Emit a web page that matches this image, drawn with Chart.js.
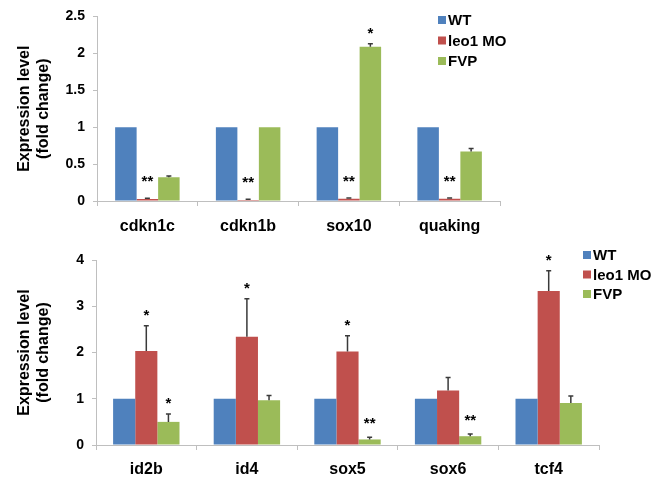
<!DOCTYPE html>
<html>
<head>
<meta charset="utf-8">
<script src="https://cdn.jsdelivr.net/npm/chart.js@4/dist/chart.umd.min.js"></script>
<style>
  html, body { margin: 0; padding: 0; background: #fff; }
  #wrap { position: relative; width: 660px; height: 479px; }
  #c1 { position: absolute; left: 0; top: 0; }
  #c2 { position: absolute; left: 0; top: 240px; }
</style>
</head>
<body>
<div id="wrap">
  <canvas id="c1" width="660" height="240"></canvas>
  <canvas id="c2" width="660" height="239"></canvas>
</div>
<script>
// ---------- data ----------
const seriesNames = ['WT', 'leo1 MO', 'FVP'];
const seriesColors = ['#4F81BD', '#C0504D', '#9BBB59'];

const topCategories = ['cdkn1c', 'cdkn1b', 'sox10', 'quaking'];
const topWT = [1, 1, 1, 1];
const topLeo1 = [0.027, 0.015, 0.03, 0.03];
const topFVP = [0.32, 1.0, 2.09, 0.67];
const topErrWT = [0, 0, 0, 0];
const topErrLeo1 = [0.01, 0.01, 0.01, 0.01];
const topErrFVP = [0.02, 0, 0.04, 0.04];
const topStarsWT = ['', '', '', ''];
const topStarsLeo1 = ['**', '**', '**', '**'];
const topStarsFVP = ['', '', '*', ''];
const topTicks = [0, 0.5, 1, 1.5, 2, 2.5];

const botCategories = ['id2b', 'id4', 'sox5', 'sox6', 'tcf4'];
const botWT = [1, 1, 1, 1, 1];
const botLeo1 = [2.03, 2.34, 2.02, 1.18, 3.33];
const botFVP = [0.50, 0.97, 0.12, 0.19, 0.91];
const botErrWT = [0, 0, 0, 0, 0];
const botErrLeo1 = [0.55, 0.82, 0.34, 0.28, 0.44];
const botErrFVP = [0.17, 0.10, 0.05, 0.05, 0.15];
const botStarsWT = ['', '', '', '', ''];
const botStarsLeo1 = ['*', '*', '*', '', '*'];
const botStarsFVP = ['*', '', '**', '**', ''];
const botTicks = [0, 1, 2, 3, 4];

const yTitle = ['Expression level', '(fold change)'];

// ---------- helpers ----------
const FONT = "'Liberation Sans', Arial, Helvetica, sans-serif";

const errorStarPlugin = {
  id: 'errStars',
  afterDatasetsDraw(chart, args, opts) {
    const ctx = chart.ctx;
    const yScale = chart.scales.y;
    chart.data.datasets.forEach((ds, di) => {
      const meta = chart.getDatasetMeta(di);
      meta.data.forEach((bar, i) => {
        const v = ds.data[i];
        const e = ds.errors ? ds.errors[i] : 0;
        const x = bar.x;
        const yTop = yScale.getPixelForValue(v + e);
        if (e > 0) {
          const yBase = yScale.getPixelForValue(v);
          ctx.save();
          ctx.strokeStyle = '#3a3a3a';
          ctx.lineWidth = 1.5;
          ctx.beginPath();
          ctx.moveTo(x, yBase);
          ctx.lineTo(x, yTop);
          ctx.moveTo(x - 2.5, yTop);
          ctx.lineTo(x + 2.5, yTop);
          ctx.stroke();
          ctx.restore();
        }
        const s = ds.stars ? ds.stars[i] : '';
        if (s) {
          const gap = s.length > 1 ? opts.gap2 : opts.gap1;
          ctx.save();
          ctx.fillStyle = '#000';
          ctx.font = 'bold 15px ' + FONT;
          ctx.textAlign = 'center';
          ctx.textBaseline = 'alphabetic';
          ctx.fillText(s, x, yTop - gap);
          ctx.restore();
        }
      });
    });
  }
};

const legendPlugin = {
  id: 'boxLegend',
  afterDraw(chart, args, opts) {
    const ctx = chart.ctx;
    chart.data.datasets.forEach((ds, i) => {
      const y = opts.y + i * opts.step;
      ctx.save();
      ctx.fillStyle = ds.backgroundColor;
      ctx.fillRect(opts.x, y - 4, 8, 8);
      ctx.fillStyle = '#000';
      ctx.font = 'bold 15px ' + FONT;
      ctx.textAlign = 'left';
      ctx.textBaseline = 'middle';
      ctx.fillText(ds.label, opts.x + 10, y + 1);
      ctx.restore();
    });
  }
};

function makeChart(id, cats, series, errs, stars, ticks, yMax, cfg) {
  const datasets = series.map((d, i) => ({
    label: seriesNames[i],
    data: d,
    errors: errs[i],
    stars: stars[i],
    backgroundColor: seriesColors[i],
    borderWidth: 0,
    categoryPercentage: cfg.catPct,
    barPercentage: 1.0
  }));
  return new Chart(document.getElementById(id), {
    type: 'bar',
    data: { labels: cats, datasets },
    options: {
      responsive: false,
      animation: false,
      layout: { padding: { left: 0, right: cfg.padRight, top: cfg.padTop, bottom: 0 } },
      plugins: {
        legend: { display: false },
        tooltip: { enabled: false },
        errStars: { gap1: cfg.gap1, gap2: cfg.gap2 },
        boxLegend: { x: cfg.legX, y: cfg.legY, step: cfg.legStep }
      },
      scales: {
        x: {
          grid: { drawOnChartArea: false, drawTicks: true, tickLength: 5, color: '#bfbfbf', offset: true },
          border: { color: '#bfbfbf', width: 1 },
          ticks: { color: '#000', font: { family: FONT, size: 16, weight: 'bold' }, padding: cfg.xPad, maxRotation: 0 },
          afterFit: s => { s.height = cfg.xHeight; }
        },
        y: {
          min: 0, max: yMax,
          afterBuildTicks: s => { s.ticks = ticks.map(v => ({ value: v })); },
          grid: { drawOnChartArea: false, drawTicks: true, tickLength: 4, color: '#bfbfbf' },
          border: { color: '#bfbfbf', width: 1 },
          ticks: {
            color: '#000', font: { family: FONT, size: 14, weight: 'bold' }, padding: 8,
            callback: v => String(Number(v))
          },
          title: {
            display: true, text: yTitle, color: '#000',
            font: { family: FONT, size: 16, weight: 'bold', lineHeight: 1.2 },
            padding: { top: 15, bottom: 0 }
          },
          afterFit: s => { s.width = cfg.yWidth; }
        }
      }
    },
    plugins: [errorStarPlugin, legendPlugin]
  });
}

makeChart('c1', topCategories, [topWT, topLeo1, topFVP],
  [topErrWT, topErrLeo1, topErrFVP], [topStarsWT, topStarsLeo1, topStarsFVP],
  topTicks, 2.5,
  { catPct: 0.64, padRight: 160, padTop: 16, xHeight: 39, yWidth: 97, xPad: 11, gap1: 6, gap2: 12,
    legX: 438, legY: 20, legStep: 20.5 });

makeChart('c2', botCategories, [botWT, botLeo1, botFVP],
  [botErrWT, botErrLeo1, botErrFVP], [botStarsWT, botStarsLeo1, botStarsFVP],
  botTicks, 4,
  { catPct: 0.66, padRight: 61, padTop: 20, xHeight: 34, yWidth: 96, xPad: 10, gap1: 6, gap2: 9,
    legX: 583, legY: 15, legStep: 19.5 });
</script>
</body>
</html>
